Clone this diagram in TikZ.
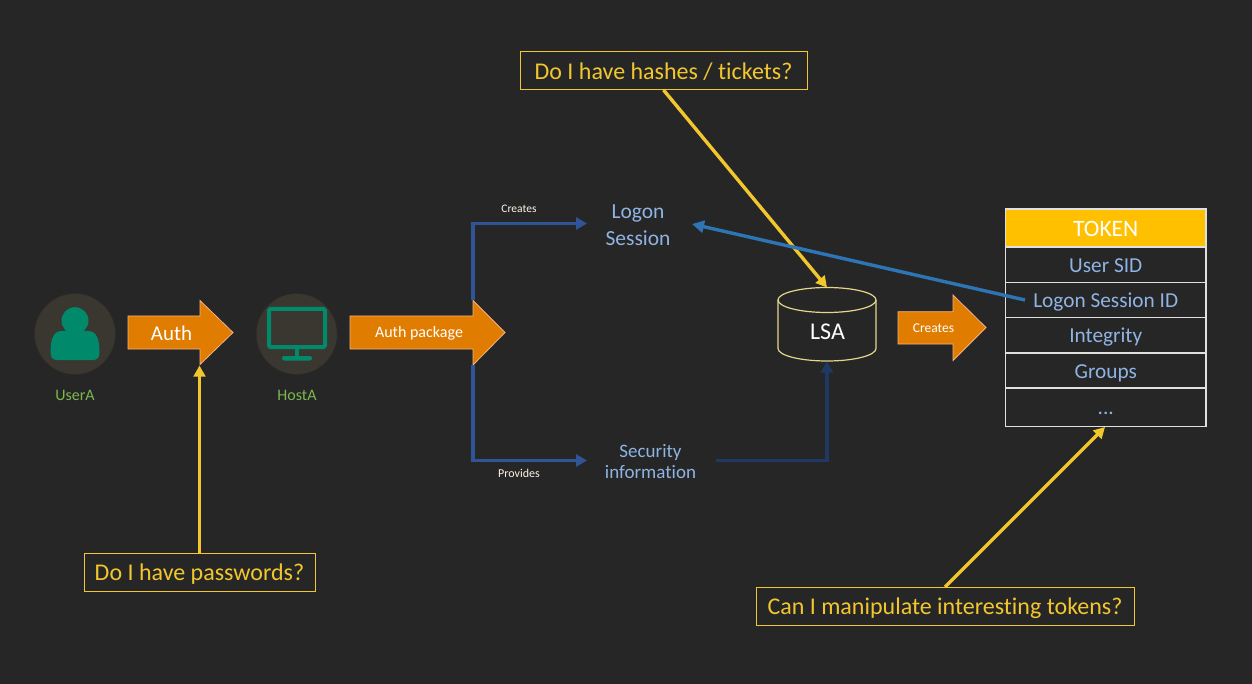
\documentclass[tikz,border=0pt]{standalone}
\usepackage{fontspec}
\setmainfont{Carlito}[Ligatures=NoCommon]
\usetikzlibrary{arrows.meta,calc}
\definecolor{bgc}{HTML}{262626}
\definecolor{orangefill}{HTML}{E07C00}
\definecolor{orangeedge}{HTML}{F4B183}
\definecolor{callout}{HTML}{F2C72E}
\definecolor{discc}{HTML}{3A3630}
\definecolor{iconc}{HTML}{00896B}
\definecolor{greentext}{HTML}{7CB84F}
\definecolor{bluetext}{HTML}{8FB4E3}
\definecolor{linkblue}{HTML}{2F5597}
\definecolor{darkblue}{HTML}{203864}
\definecolor{refblue}{HTML}{2E75B6}
\definecolor{tokenhead}{HTML}{FFC000}
\definecolor{cyl}{HTML}{E6D58C}
\tikzset{
  x=1pt,y=-1pt,
  txt/.style={inner sep=0pt,outer sep=0pt,font=\fontsize{#1}{#1}\selectfont},
  bluelabel/.style={txt=#1,text=bluetext,align=center},
  whitelabel/.style={txt=#1,text=white},
  greenlabel/.style={txt=16,text=greentext},
  fatarrow/.style={fill=orangefill,draw=orangeedge,line width=0.8pt,line join=miter},
  calloutbox/.style={draw=callout,line width=1pt,text=callout,inner sep=0pt,outer sep=0pt,text height=19.5pt,text depth=2.5pt,font=\fontsize{24}{24}\selectfont,anchor=north west},
  calloutarrow/.style={draw=callout,line width=3.4pt,-{Triangle[length=11pt,width=11.5pt]}},
  flow/.style={draw=linkblue,line width=3.4pt,-{Triangle[length=11pt,width=12pt]}},
  flowdark/.style={draw=darkblue,line width=3.4pt,-{Triangle[length=11pt,width=12pt]}},
  refarrow/.style={draw=refblue,line width=3.4pt,-{Triangle[length=12pt,width=12pt]}},
  tokenrow/.style={draw=white!88!black,line width=1.4pt,minimum width=200.5pt,inner sep=0pt,outer sep=0pt,text height=17pt,text depth=2pt,anchor=north west,font=\fontsize{21.3}{22}\selectfont,text=bluetext},
  disc/.style={circle,fill=discc,draw=black!20!discc,line width=0.5pt,minimum size=81pt,inner sep=0pt,outer sep=0pt},
}
\begin{document}
\begin{tikzpicture}
\path[fill=bgc,use as bounding box] (0,0) rectangle (1252,684);

% user and host
\node[disc] (user) at (75,334) {};
\fill[iconc] (75,320.7) circle[radius=13.5];
\fill[iconc] (50.5,352) .. controls (50.5,340) and (53,331) .. (62,331) -- (88,331) .. controls (97,331) and (99.5,340) .. (99.5,352) .. controls (99.5,358) and (97,360) .. (93,360) -- (57,360) .. controls (53,360) and (50.5,358) .. (50.5,352) -- cycle;
\node[disc] (host) at (296.7,334) {};
\draw[iconc,line width=4pt,rounded corners=1.5pt] (269,309) rectangle (325,347);
\fill[iconc] (295,349) rectangle (299,357);
\fill[iconc,rounded corners=2pt] (282,356) rectangle (312,360.5);
\node[greenlabel] (usera) at (75,395.5) {UserA};
\node[greenlabel] (hosta) at (297,395.5) {HostA};

% orange arrows
\draw[fatarrow] (128,316) -- (200,316) -- (200,300.5) -- (233,332.5) -- (200,364.5) -- (200,349) -- (128,349) -- cycle;
\node[whitelabel=21] (auth) at (171.5,333.5) {Auth};
\draw[fatarrow] (350,316) -- (473,316) -- (473,300.5) -- (505,332.5) -- (473,365) -- (473,349) -- (350,349) -- cycle;
\node[whitelabel=16] (authpkg) at (419,333.5) {Auth package};
\draw[fatarrow] (898,311.7) -- (953,311.7) -- (953,295) -- (986,327.5) -- (953,360.5) -- (953,344) -- (898,344) -- cycle;
\node[whitelabel=13.5] (creates2) at (933.5,328) {Creates};

% callouts
\node[calloutbox,minimum width=287pt,minimum height=38pt] (hashes) at (520,52) {Do I have hashes / tickets?};
\node[calloutbox,minimum width=231pt,minimum height=38pt] (passwords) at (84,553) {Do I have passwords?};
\node[calloutbox,minimum width=378pt,minimum height=38pt] (tokens) at (756,587) {Can I manipulate interesting tokens?};

% LSA
\draw[cyl,line width=1.2pt] (778,300) -- (778,348.5) arc[start angle=180,end angle=0,x radius=49,y radius=12.5] -- (876,300);
\draw[cyl,line width=1.2pt] (827,300) ellipse[x radius=49,y radius=12.5];
\node[whitelabel=24] (lsa) at (827.5,332) {LSA};
\coordinate (lsatop) at (827,287.5);
\coordinate (lsabottom) at (827,361.5);

% token table
\node[tokenrow,fill=tokenhead,text=white,minimum height=38pt,text height=18pt,text depth=1pt,font=\fontsize{23.5}{24}\selectfont] (t0) at (1005.5,209) {TOKEN};
\node[tokenrow,minimum height=35.5pt] (t1) at (1005.5,247) {User SID};
\node[tokenrow,minimum height=35.2pt] (t2) at (1005.5,282.5) {Logon Session ID};
\node[tokenrow,minimum height=35.3pt] (t3) at (1005.5,317.7) {Integrity};
\node[tokenrow,minimum height=35pt] (t4) at (1005.5,353) {Groups};
\node[tokenrow,minimum height=38.7pt,text height=14pt,text depth=0pt] (t5) at (1005.5,388) {...};
\coordinate (tokbottom) at (1105,427);
\coordinate (sessid) at (1025,300);

% flow texts
\node[bluelabel=21.5,text height=14pt,text depth=5pt] (logon) at (638,214.5) {Logon};
\node[bluelabel=21.5,text height=14pt,text depth=5pt] (session) at (638,241) {Session};
\node[bluelabel=19,text height=13pt,text depth=4pt] (security) at (650.5,452.5) {Security};
\node[bluelabel=19,text height=13pt,text depth=4pt] (information) at (650.5,473.5) {information};
\node[whitelabel=11.5,text=white!90!orange] (creates1) at (519,208.5) {Creates};
\node[whitelabel=12,text=white!90!orange] (provides) at (519,473.5) {Provides};

% connectors
\coordinate (upstart) at (473,300.5);
\coordinate (downstart) at (473,365);
\coordinate (logonin) at (587,223.5);
\coordinate (secin) at (587,460.5);
\coordinate (secout) at (716,460.5);
\coordinate (sessionin) at (692,224);
\coordinate (pwtip) at (199.5,365.5);
\draw[flow] (upstart) |- (logonin);
\draw[flow] (downstart) |- (secin);
\draw[flowdark] (secout) -| (lsabottom);
\draw[calloutarrow] (hashes.south) -- (lsatop);
\draw[calloutarrow] (passwords.north) -- (pwtip);
\draw[calloutarrow] (tokens.north) -- (tokbottom);
\draw[refarrow] (sessid) -- (sessionin);
\end{tikzpicture}
\end{document}
